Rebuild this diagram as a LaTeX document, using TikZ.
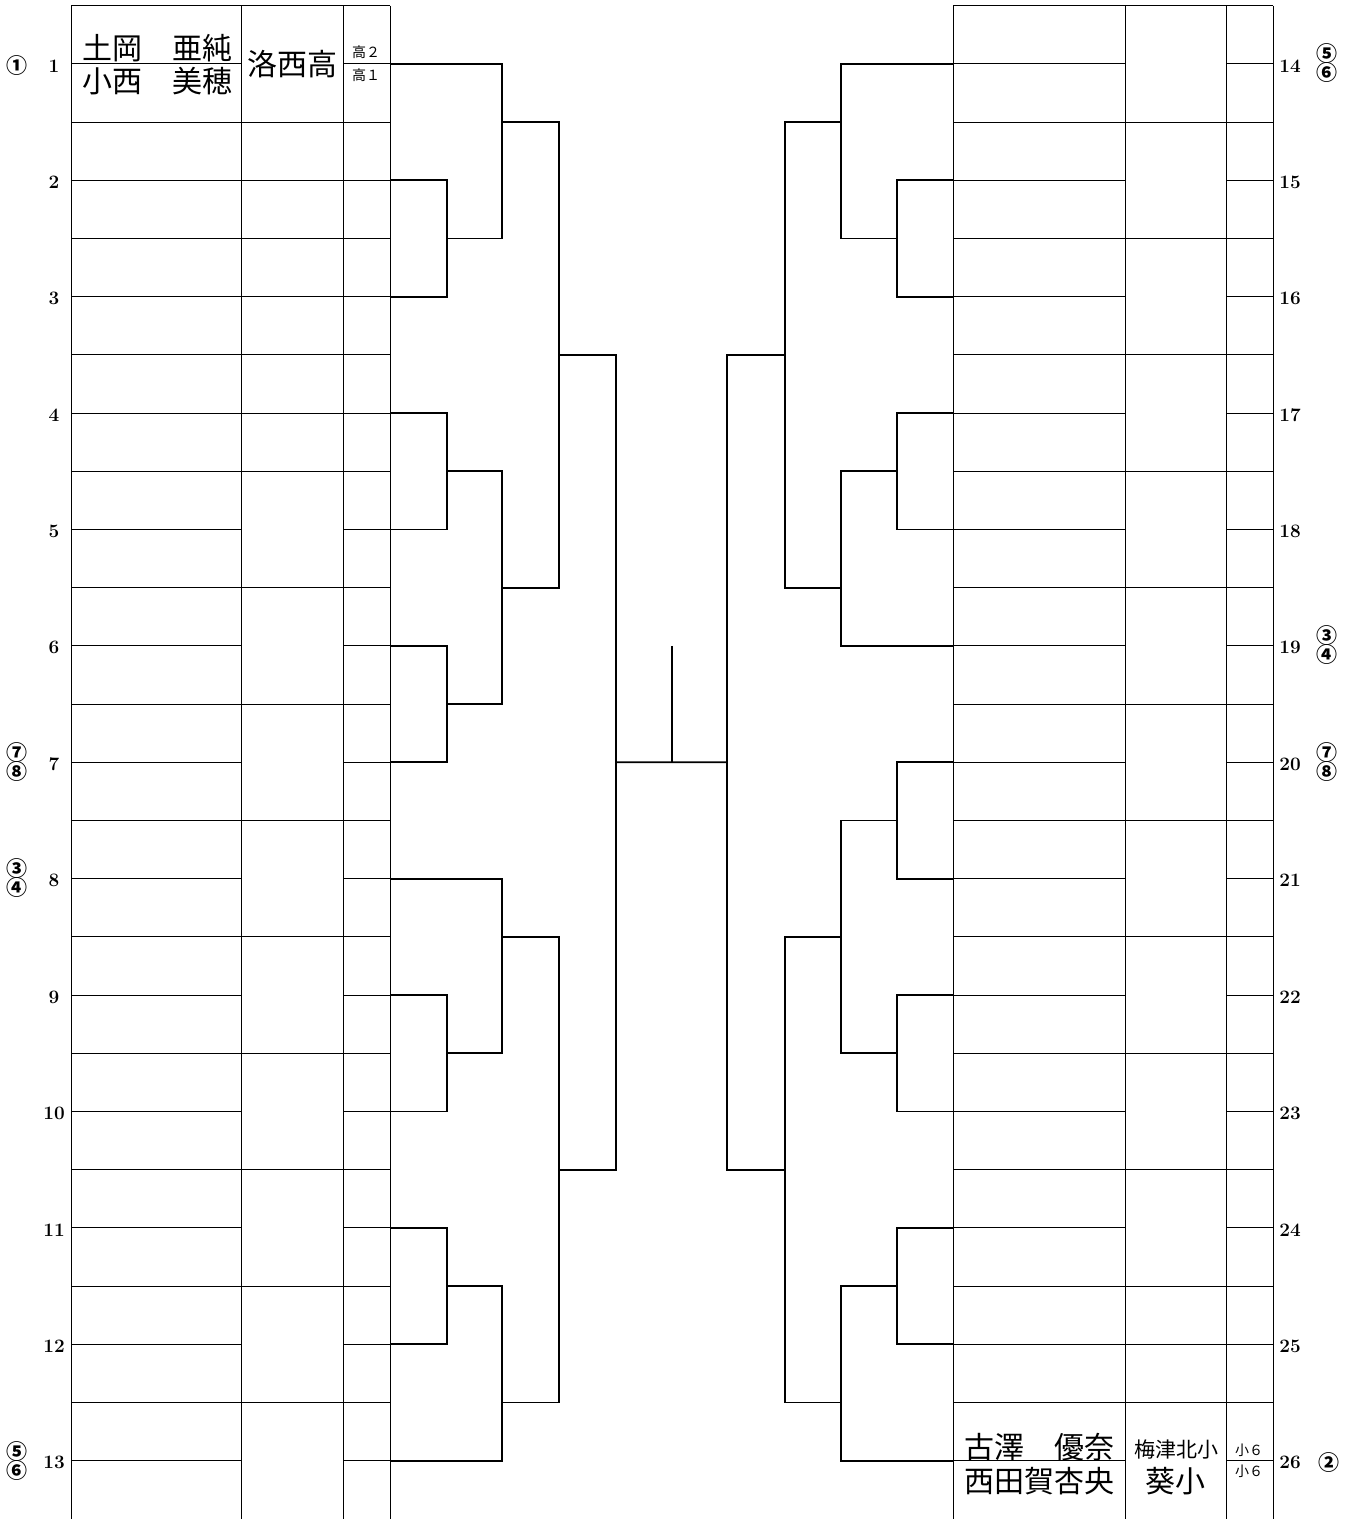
\documentclass[tikz,border=0pt]{standalone}
\usepackage{fontspec}
\newfontfamily\jpfont{Noto Sans CJK JP}
\usetikzlibrary{calc,positioning}

\tikzset{
  tableline/.style={line width=1pt},
  bracketline/.style={line width=1.8pt},
  numlabel/.style={inner sep=0pt, font=\bfseries\fontsize{19}{19}\selectfont},
  circlabel/.style={inner sep=0pt, font=\jpfont\bfseries\fontsize{21}{21}\selectfont},
  bigjp/.style={inner sep=0pt, font=\jpfont\fontsize{30}{30}\selectfont},
  midjp/.style={inner sep=0pt, font=\jpfont\fontsize{21}{21}\selectfont},
  smalljp/.style={inner sep=0pt, font=\jpfont\fontsize{14}{14}\selectfont}
}

% #1 ratio of the outgoing point, #2 #3 the two incoming points, #4 column, #5 new point
\newcommand{\joinpair}[5][0.5]{%
  \draw[bracketline] (#2) -- (#4 |- #2) -- (#4 |- #3) -- (#3);
  \coordinate (#5) at ($(#4 |- #2)!#1!(#4 |- #3)$);
}

\begin{document}
\begin{tikzpicture}[x=1pt,y=-1pt]
  \useasboundingbox (0,0) rectangle (1353,1519);
  \def\toprow{5.6}
  \def\half{58.2}

  % tables
  \foreach \x in {71,241,343,390,953,1125,1226,1273}
    \draw[tableline] (\x,\toprow) -- (\x,1519);
  \foreach \k in {0,...,25}{
    \pgfmathsetmacro{\yy}{\toprow+\half*\k}
    \draw[tableline] (71,\yy) -- (241,\yy) (343,\yy) -- (390,\yy)
                     (953,\yy) -- (1125,\yy) (1226,\yy) -- (1273,\yy);
  }
  \foreach \k in {0,2,...,24,3,5,7}{
    \pgfmathsetmacro{\yy}{\toprow+\half*\k}
    \draw[tableline] (241,\yy) -- (343,\yy);
  }
  \foreach \k in {0,2,...,24,23}{
    \pgfmathsetmacro{\yy}{\toprow+\half*\k}
    \draw[tableline] (1125,\yy) -- (1226,\yy);
  }

  % entry points and numbers
  \foreach \i in {1,...,13}{
    \pgfmathsetmacro{\yy}{\toprow+\half*(2*\i-1)}
    \coordinate (e\i) at (390,\yy);
    \node[numlabel] (lab\i) at (54,\yy+2) {\i};
  }
  \foreach \i in {14,...,26}{
    \pgfmathsetmacro{\yy}{\toprow+\half*(2*\i-27)}
    \coordinate (e\i) at (953,\yy);
    \node[numlabel] (lab\i) at (1290,\yy+2) {\i};
  }

  % seeds
  \node[circlabel] (c1) at (17,66) {①};
  \node[circlabel] (c7a) at (17,753) {⑦};
  \node[circlabel] (c7b) at (17,772) {⑧};
  \node[circlabel] (c8a) at (17,869) {③};
  \node[circlabel] (c8b) at (17,888) {④};
  \node[circlabel] (c13a) at (17,1452) {⑤};
  \node[circlabel] (c13b) at (17,1471) {⑥};
  \node[circlabel] (c14a) at (1327,54) {⑤};
  \node[circlabel] (c14b) at (1327,73) {⑥};
  \node[circlabel] (c19a) at (1327,636) {③};
  \node[circlabel] (c19b) at (1327,655) {④};
  \node[circlabel] (c20a) at (1327,753) {⑦};
  \node[circlabel] (c20b) at (1327,772) {⑧};
  \node[circlabel] (c26) at (1329,1463) {②};

  % entries
  \node[bigjp] (p1a) at (157,48) {土岡　亜純};
  \node[bigjp] (p1b) at (157,81) {小西　美穂};
  \node[bigjp] (s1) at (292,64) {洛西高};
  \node[smalljp] (g1a) at (366,52) {高２};
  \node[smalljp] (g1b) at (366,75) {高１};
  \node[bigjp] (p26a) at (1039,1447) {古澤　優奈};
  \node[bigjp] (p26b) at (1039,1481) {西田賀杏央};
  \node[midjp] (s26a) at (1176,1449) {梅津北小};
  \node[bigjp] (s26b) at (1175,1481) {葵小};
  \node[smalljp] (g26a) at (1249,1450) {小６};
  \node[smalljp] (g26b) at (1249,1471) {小６};

  % bracket columns
  \coordinate (L1) at (447,0);
  \coordinate (L2) at (502,0);
  \coordinate (L3) at (559,0);
  \coordinate (L4) at (616,0);
  \coordinate (R4) at (727,0);
  \coordinate (R3) at (785,0);
  \coordinate (R2) at (841,0);
  \coordinate (R1) at (897,0);
  \coordinate (C0) at (672,0);

  % left half
  \joinpair{e2}{e3}{L1}{m23}
  \joinpair[1/3]{e1}{m23}{L2}{m1}
  \joinpair{e4}{e5}{L1}{m45}
  \joinpair{e6}{e7}{L1}{m67}
  \joinpair{m45}{m67}{L2}{m47}
  \joinpair{m1}{m47}{L3}{qa}
  \joinpair{e9}{e10}{L1}{m910}
  \joinpair[1/3]{e8}{m910}{L2}{m8}
  \joinpair{e11}{e12}{L1}{m1112}
  \joinpair[2/3]{m1112}{e13}{L2}{m13}
  \joinpair{m8}{m13}{L3}{qb}
  \joinpair{qa}{qb}{L4}{semiL}

  % right half
  \joinpair{e15}{e16}{R1}{n1516}
  \joinpair[1/3]{e14}{n1516}{R2}{n14}
  \joinpair{e17}{e18}{R1}{n1718}
  \joinpair[2/3]{n1718}{e19}{R2}{n19}
  \joinpair{n14}{n19}{R3}{pa}
  \joinpair{e20}{e21}{R1}{n2021}
  \joinpair{e22}{e23}{R1}{n2223}
  \joinpair{n2021}{n2223}{R2}{n23}
  \joinpair{e24}{e25}{R1}{n2425}
  \joinpair[2/3]{n2425}{e26}{R2}{n26}
  \joinpair{n23}{n26}{R3}{pb}
  \joinpair{pa}{pb}{R4}{semiR}

  % final
  \draw[bracketline] (semiL) -- (semiR);
  \coordinate (champ) at (C0 |- e6);
  \draw[bracketline] (champ) -- (champ |- semiL);
\end{tikzpicture}
\end{document}
